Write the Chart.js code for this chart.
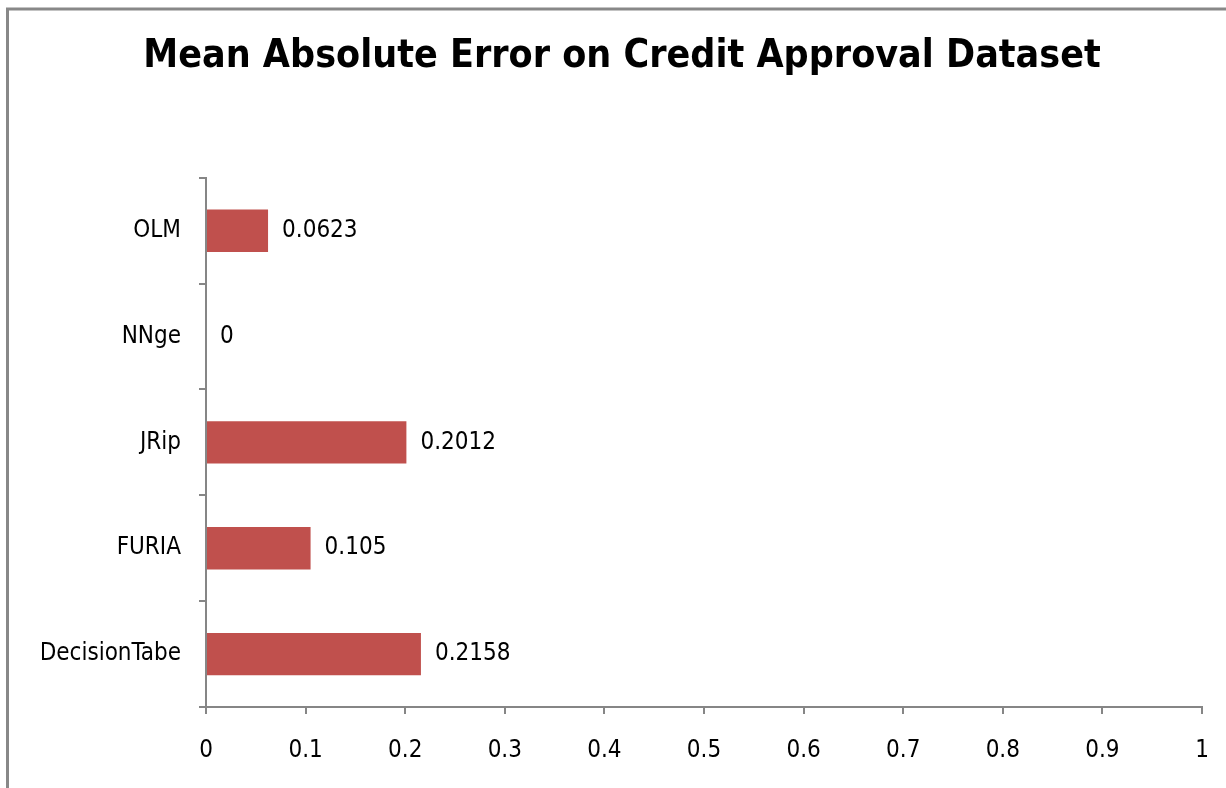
<!DOCTYPE html>
<html>
<head>
<meta charset="utf-8">
<script src="https://cdn.jsdelivr.net/npm/chart.js@4/dist/chart.umd.min.js"></script>
<style>
  html, body { margin: 0; padding: 0; background: #fff; }
  #wrap { position: relative; width: 1226px; height: 788px; }
</style>
</head>
<body>
<div id="wrap"><canvas id="maeChart" width="1226" height="788"></canvas></div>
<script>
const chartTitle = 'Mean Absolute Error on Credit Approval Dataset';
const algorithms = ['OLM', 'NNge', 'JRip', 'FURIA', 'DecisionTabe'];
const maeValues = [0.0623, 0, 0.2012, 0.105, 0.2158];
const maeLabels = ['0.0623', '0', '0.2012', '0.105', '0.2158'];
const xTicks = [0, 0.1, 0.2, 0.3, 0.4, 0.5, 0.6, 0.7, 0.8, 0.9, 1];

const labelFont = "'Liberation Sans Narrow', 'DejaVu Sans Condensed', sans-serif";
const axisGray = '#868686';

// frame lines around the picture (only top and left show)
const framePlugin = {
  id: 'frame',
  beforeDraw(chart) {
    const ctx = chart.ctx;
    ctx.save();
    ctx.strokeStyle = '#888888';
    ctx.lineWidth = 3;
    ctx.beginPath();
    ctx.moveTo(7.5, chart.height);
    ctx.lineTo(7.5, 9);
    ctx.lineTo(chart.width, 9);
    ctx.stroke();
    ctx.restore();
  }
};

// value labels to the right of each bar
const valueLabelPlugin = {
  id: 'valueLabels',
  afterDatasetsDraw(chart) {
    const ctx = chart.ctx;
    const meta = chart.getDatasetMeta(0);
    ctx.save();
    ctx.font = '24px ' + labelFont;
    ctx.fillStyle = '#000';
    ctx.textAlign = 'left';
    ctx.textBaseline = 'middle';
    meta.data.forEach((bar, i) => {
      ctx.fillText(maeLabels[i], bar.x + 14, bar.y);
    });
    ctx.restore();
  }
};

const ctx = document.getElementById('maeChart').getContext('2d');
new Chart(ctx, {
  type: 'bar',
  data: {
    labels: algorithms,
    datasets: [{
      data: maeValues,
      backgroundColor: '#C0504D',
      borderWidth: 0,
      barPercentage: 0.4,
      categoryPercentage: 1.0
    }]
  },
  options: {
    indexAxis: 'y',
    responsive: false,
    animation: false,
    layout: { padding: { top: 8, right: 24, bottom: 0, left: 42 } },
    plugins: {
      legend: { display: false },
      tooltip: { enabled: false },
      title: {
        display: true,
        text: chartTitle,
        color: '#000',
        font: { family: labelFont, size: 39, weight: 'bold', lineHeight: 1.2 },
        padding: { top: 25, bottom: 98 }
      }
    },
    scales: {
      x: {
        min: 0,
        max: 1,
        afterFit(scale) {
          scale.height = 81;
          // the last tick label fits inside the layout padding already
          scale.paddingLeft = 0;
          scale.paddingRight = 0;
        },
        afterBuildTicks(scale) { scale.ticks = xTicks.map(v => ({ value: v })); },
        grid: { drawOnChartArea: false, drawTicks: true, tickLength: 7, color: axisGray, lineWidth: 2 },
        border: { color: axisGray, width: 2 },
        ticks: {
          color: '#000',
          padding: 22,
          font: { family: labelFont, size: 24 },
          callback: v => String(v)
        }
      },
      y: {
        afterFit(scale) { scale.width = 164; },
        grid: { drawOnChartArea: false, drawTicks: true, tickLength: 7, color: axisGray, lineWidth: 2, offset: true },
        border: { color: axisGray, width: 2 },
        ticks: {
          color: '#000',
          padding: 18,
          font: { family: labelFont, size: 24 }
        }
      }
    }
  },
  plugins: [framePlugin, valueLabelPlugin]
});
</script>
</body>
</html>
